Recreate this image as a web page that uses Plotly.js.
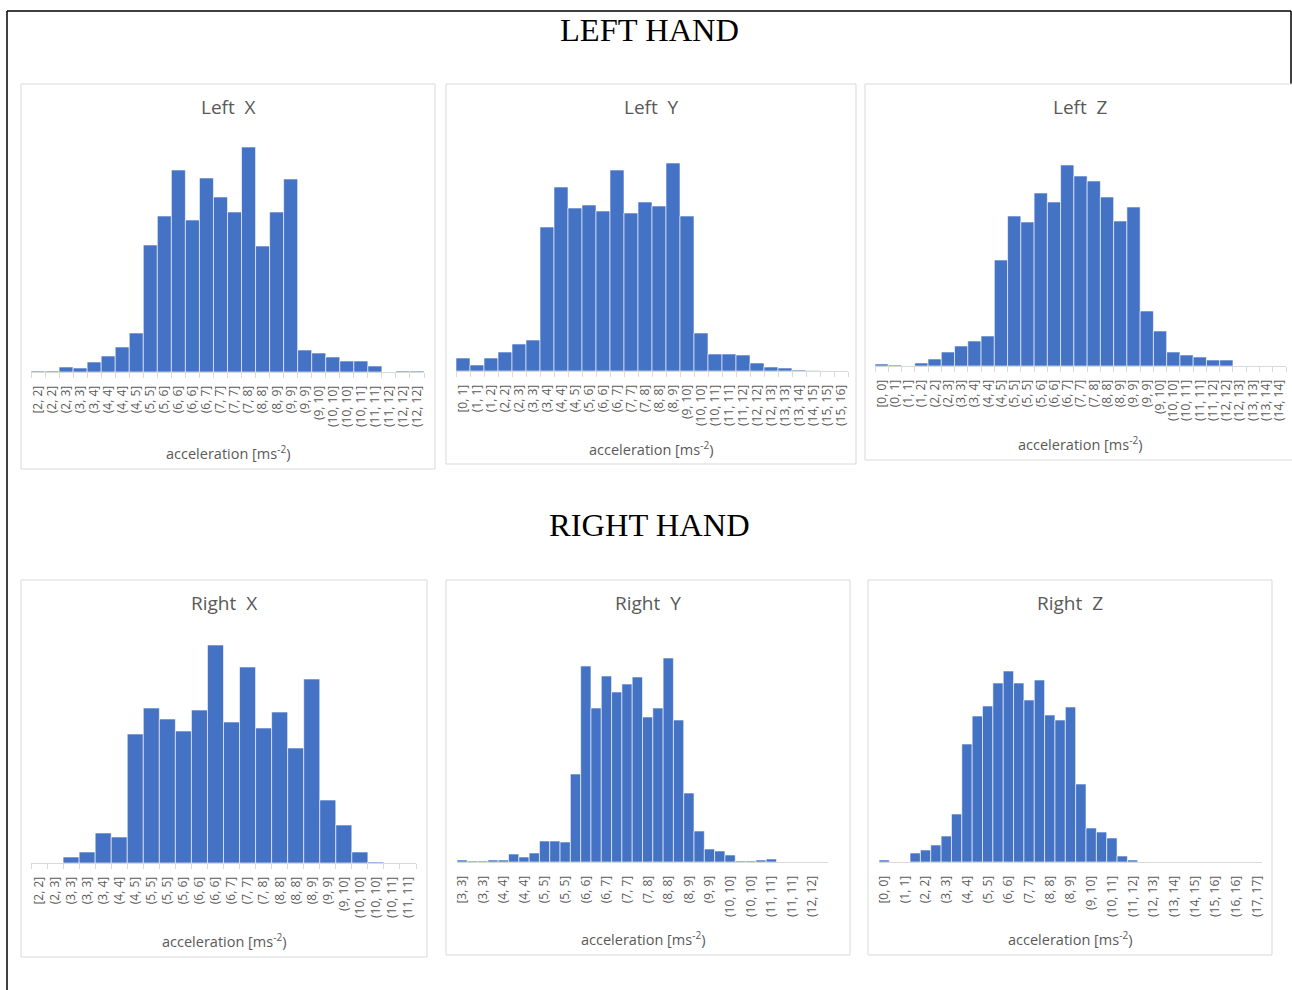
<!DOCTYPE html>
<html>
<head>
<meta charset="utf-8">
<script src="https://cdn.plot.ly/plotly-3.0.1.min.js"></script>
<style>html,body{margin:0;padding:0;background:#fff;}#chart{width:1292px;height:990px;}</style>
</head>
<body>
<div id="chart"></div>
<script>
// ---------- DATA ----------
const leftXLabels = ["[2, 2]","(2, 2]","(2, 3]","(3, 3]","(3, 4]","(4, 4]","(4, 4]","(4, 5]","(5, 5]","(5, 6]","(6, 6]","(6, 6]","(6, 7]","(7, 7]","(7, 7]","(7, 8]","(8, 8]","(8, 9]","(9, 9]","(9, 9]","(9, 10]","(10, 10]","(10, 10]","(10, 11]","(11, 11]","(11, 12]","(12, 12]","(12, 12]"];
const leftXCounts = [1,1,5,4,10,16,25,39,127,156,202,152,194,175,160,225,126,160,193,22,19,15,11,11,6,0,1,1];

const leftYLabels = ["[0, 1]","(1, 1]","(1, 2]","(2, 2]","(2, 3]","(3, 3]","(3, 4]","(4, 4]","(4, 5]","(5, 6]","(6, 6]","(6, 7]","(7, 7]","(7, 8]","(8, 8]","(8, 9]","(9, 10]","(10, 10]","(10, 11]","(11, 11]","(11, 12]","(12, 12]","(12, 13]","(13, 13]","(13, 14]","(14, 15]","(15, 15]","(15, 16]"];
const leftYCounts = [13,6,13,19,27,31,144,184,163,166,160,201,158,169,165,208,155,38,17,17,16,8,4,3,1,0.5,0,0];

const leftZLabels = ["[0, 0]","(0, 1]","(1, 1]","(1, 2]","(2, 2]","(2, 3]","(3, 3]","(3, 4]","(4, 4]","(4, 5]","(5, 5]","(5, 5]","(5, 6]","(6, 6]","(6, 7]","(7, 7]","(7, 8]","(8, 8]","(8, 9]","(9, 9]","(9, 9]","(9, 10]","(10, 10]","(10, 11]","(11, 11]","(11, 12]","(12, 12]","(12, 13]","(13, 13]","(13, 14]","(14, 14]"];
const leftZCounts = [2,1,0,3,7,14,20,25,30,106,150,144,173,164,201,190,185,169,145,159,55,35,14,11,9,6,6,0,0,0,0];

const rightXLabels = ["[2, 2]","(2, 3]","(3, 3]","(3, 3]","(3, 4]","(4, 4]","(4, 5]","(5, 5]","(5, 5]","(5, 6]","(6, 6]","(6, 6]","(6, 7]","(7, 7]","(7, 8]","(8, 8]","(8, 8]","(8, 9]","(9, 9]","(9, 10]","(10, 10]","(10, 10]","(10, 11]","(11, 11]"];
const rightXCounts = [0,0,6,11,30,26,129,155,144,132,153,218,141,196,135,151,115,184,63,38,11,1,0,0];

// Right Y / Right Z: tick labels are shown on every other bin
const rightYLabels = ["[3, 3]","(3, 3]","(4, 4]","(4, 4]","(5, 5]","(5, 5]","(6, 6]","(6, 7]","(7, 7]","(7, 8]","(8, 8]","(8, 9]","(9, 9]","(10, 10]","(10, 10]","(11, 11]","(11, 11]","(12, 12]"];
const rightYCounts = [2,1,1,2,2,8,5,9,21,21,20,88,196,154,186,170,178,185,145,154,204,142,69,31,13,11,7,1,1,2,3,0,0,0,0,0];

const rightZLabels = ["[0, 0]","(1, 1]","(2, 2]","(3, 3]","(4, 4]","(5, 5]","(6, 6]","(7, 7]","(8, 8]","(8, 9]","(9, 10]","(10, 11]","(11, 12]","(12, 13]","(13, 14]","(14, 15]","(15, 16]","(16, 16]","(17, 17]"];
const rightZCounts = [2,0,0,9,12,17,26,48,118,146,156,179,191,179,162,182,147,142,155,78,34,30,24,6,2,0,0,0,0,0,0,0,0,0,0,0,0];

const panelTitles = ["Left  X","Left  Y","Left  Z","Right  X","Right  Y","Right  Z"];
const axisTitle = "acceleration [ms<sup>-2</sup>)";
const sectionTitles = ["LEFT HAND","RIGHT HAND"];

// ---------- LAYOUT GEOMETRY (pixels) ----------
const W = 1292, H = 990;
const BLUE = "#4472C4", GREY = "#595959", BORDER = "#d9d9d9";

const panels = [
  {labels:leftXLabels,  counts:leftXCounts,  step:1, ticks:true,  box:[21,84,435,469], plot:[31,424,372],  title:[228,107], axt:[228,452]},
  {labels:leftYLabels,  counts:leftYCounts,  step:1, ticks:true,  box:[446,84,856,464], plot:[456,848,371], title:[651,107], axt:[651,448]},
  {labels:leftZLabels,  counts:leftZCounts,  step:1, ticks:true,  box:[865,84,1293,460], plot:[875,1286,366], title:[1080,107], axt:[1080,443]},
  {labels:rightXLabels, counts:rightXCounts, step:1, ticks:true,  box:[21,580,427,957], plot:[31,416,863],  title:[224,603], axt:[224,940]},
  {labels:rightYLabels, counts:rightYCounts, step:2, ticks:false, box:[446,580,850,955], plot:[457,828,862], title:[648,603], axt:[643,938]},
  {labels:rightZLabels, counts:rightZCounts, step:2, ticks:false, box:[868,580,1272,955], plot:[879,1262,862], title:[1070,603], axt:[1070,938]}
];

const PLOT_H = 240;
const traces = [];
const layout = {
  width: W, height: H,
  margin: {l:0, r:0, t:0, b:0},
  paper_bgcolor: "#ffffff",
  plot_bgcolor: "rgba(0,0,0,0)",
  showlegend: false,
  bargap: 0,
  shapes: [],
  annotations: []
};

const px = x => x / W;
const py = y => 1 - y / H;

panels.forEach((p, i) => {
  const n = i + 1;
  const xa = "x" + (n === 1 ? "" : n), ya = "y" + (n === 1 ? "" : n);
  const xs = p.counts.map((_, k) => k);
  traces.push({
    type: "bar", x: xs, y: p.counts, xaxis: xa, yaxis: ya,
    marker: {color: BLUE, line: {color: "#ffffff", width: 0.6}},
    hoverinfo: "y"
  });
  const [x0, x1, base] = p.plot;
  const xkey = "xaxis" + (n === 1 ? "" : n), ykey = "yaxis" + (n === 1 ? "" : n);
  layout[xkey] = {
    domain: [px(x0), px(x1)],
    anchor: ya,
    range: [-0.5, p.counts.length - 0.5],
    showline: true, linecolor: BORDER, linewidth: 1,
    showgrid: false, zeroline: false,
    tickmode: "array",
    tickvals: p.labels.map((_, k) => k * p.step),
    ticktext: p.labels,
    tickangle: -90,
    ticks: "outside", ticklen: 8, tickcolor: "rgba(0,0,0,0)",
    tickfont: {family: "Open Sans, Noto Sans, sans-serif", size: 12, color: GREY},
    minor: p.ticks ? {tickmode: "linear", tick0: -0.5, dtick: 1, ticks: "outside", ticklen: 5, tickcolor: BORDER, tickwidth: 1} : undefined,
    fixedrange: true
  };
  layout[ykey] = {
    domain: [py(base), py(base - PLOT_H)],
    anchor: xa,
    range: [0, PLOT_H],
    visible: false, showgrid: false, zeroline: false, fixedrange: true
  };
  // panel frame
  const [bx0, by0, bx1, by1] = p.box;
  layout.shapes.push({type: "rect", xref: "paper", yref: "paper",
    x0: px(bx0), x1: px(bx1), y0: py(by1), y1: py(by0),
    line: {color: BORDER, width: 1}, fillcolor: "#ffffff", layer: "below"});
  // panel title
  layout.annotations.push({xref: "paper", yref: "paper", x: px(p.title[0]), y: py(p.title[1]),
    text: panelTitles[i].replace("  ", "&nbsp; "), showarrow: false, xanchor: "center", yanchor: "middle",
    font: {family: "Open Sans, Noto Sans, sans-serif", size: 19, color: GREY}});
  // axis title
  layout.annotations.push({xref: "paper", yref: "paper", x: px(p.axt[0]), y: py(p.axt[1]),
    text: axisTitle, showarrow: false, xanchor: "center", yanchor: "middle",
    font: {family: "Open Sans, Noto Sans, sans-serif", size: 14.5, color: GREY}});
});

// outer black frame (top, left, right upper part)
layout.shapes.unshift(
  {type: "line", xref: "paper", yref: "paper", x0: px(7), x1: px(1291), y0: py(11), y1: py(11), line: {color: "#000", width: 1.5}, layer: "below"},
  {type: "line", xref: "paper", yref: "paper", x0: px(7), x1: px(7), y0: py(11), y1: py(990), line: {color: "#000", width: 1.5}, layer: "below"},
  {type: "line", xref: "paper", yref: "paper", x0: px(1291), x1: px(1291), y0: py(11), y1: py(84), line: {color: "#000", width: 1.5}, layer: "below"}
);

// section titles
[[sectionTitles[0], 30], [sectionTitles[1], 525]].forEach(([t, y]) => {
  layout.annotations.push({xref: "paper", yref: "paper", x: px(649), y: py(y),
    text: t, showarrow: false, xanchor: "center", yanchor: "middle",
    font: {family: "Liberation Serif, Times New Roman, serif", size: 32.5, color: "#000"}});
});

Plotly.newPlot("chart", traces, layout, {displayModeBar: false, staticPlot: true});
</script>
</body>
</html>
